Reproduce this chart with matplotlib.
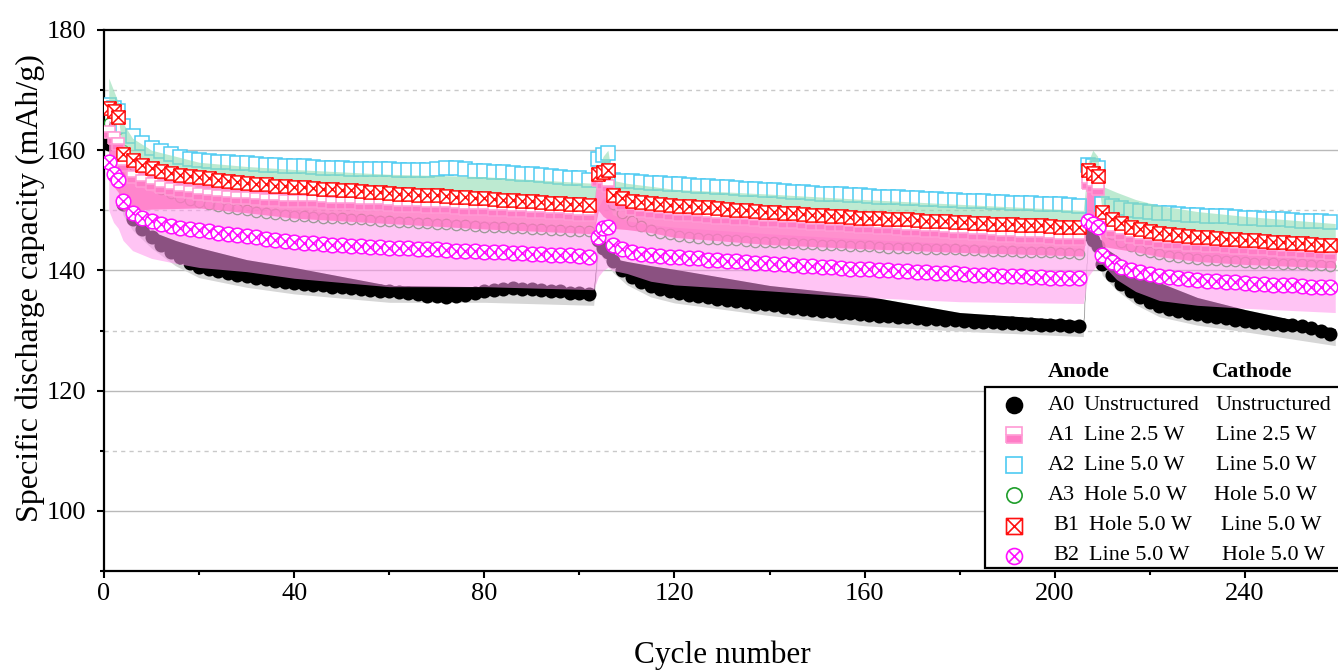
import matplotlib
matplotlib.use("Agg")
import matplotlib.pyplot as plt
from matplotlib.lines import Line2D
from matplotlib.patches import Rectangle
from matplotlib.path import Path
from matplotlib.ticker import MultipleLocator

plt.rcParams["font.family"] = ["Liberation Serif", "DejaVu Serif"]

# cycle numbers of the plotted points (formation, checkup and ageing blocks)
cycles = ([1, 2, 3] + list(range(4, 104, 2)) + [104, 105, 106]
          + list(range(107, 207, 2)) + [207, 208, 209] + list(range(210, 260, 2)))

# mean specific discharge capacity (mAh/g) per cell type
cap_A0 = [
    161.0, 157.5, 155.5,
    151.0, 148.5, 146.9, 145.5, 144.2, 143.1, 142.2, 141.3, 140.6, 140.2,
    139.9, 139.6, 139.3, 139.0, 138.8, 138.5, 138.3, 138.1, 137.9, 137.8,
    137.6, 137.5, 137.3, 137.2, 137.1, 136.9, 136.8, 136.6, 136.5, 136.4,
    136.2, 136.0, 135.8, 135.7, 135.6, 135.7, 135.9, 136.2, 136.5, 136.8,
    136.9, 137.0, 136.9, 136.9, 136.8, 136.6, 136.5, 136.3, 136.2, 136.1,
    145.0, 143.8, 143.0,
    141.5, 140.0, 138.9, 138.0, 137.4, 136.9, 136.5, 136.2, 135.9, 135.7,
    135.5, 135.3, 135.1, 134.9, 134.7, 134.5, 134.4, 134.2, 134.0, 133.8,
    133.6, 133.5, 133.3, 133.2, 133.0, 132.9, 132.7, 132.6, 132.5, 132.4,
    132.3, 132.2, 132.1, 132.0, 131.9, 131.8, 131.7, 131.6, 131.5, 131.4,
    131.4, 131.3, 131.2, 131.1, 131.1, 131.0, 131.0, 130.9, 130.8, 130.8,
    146.0, 145.0, 144.0,
    141.0, 139.2, 137.8, 136.6, 135.6, 134.8, 134.1, 133.6, 133.2, 132.9,
    132.7, 132.5, 132.3, 132.1, 131.8, 131.6, 131.4, 131.2, 131.1, 131.0,
    130.9, 130.8, 130.5, 130.0, 129.5,
]
cap_A1 = [
    163.0, 162.0, 161.0,
    157.5, 155.5, 154.8, 154.3, 153.9, 153.5, 153.2, 153.0, 152.8, 152.6,
    152.4, 152.3, 152.1, 152.0, 151.9, 151.8, 151.7, 151.6, 151.6, 151.5,
    151.5, 151.4, 151.3, 151.3, 151.2, 151.1, 151.0, 151.0, 150.9, 150.8,
    150.8, 150.7, 150.6, 150.5, 150.5, 150.4, 150.3, 150.2, 150.2, 150.1,
    150.0, 149.9, 149.9, 149.8, 149.7, 149.6, 149.5, 149.4, 149.3, 149.2,
    155.0, 154.5, 154.0,
    152.0, 151.0, 150.3, 149.9, 149.7, 149.5, 149.4, 149.3, 149.2, 149.0,
    148.9, 148.8, 148.7, 148.6, 148.5, 148.4, 148.3, 148.2, 148.1, 148.0,
    147.9, 147.8, 147.7, 147.6, 147.5, 147.4, 147.3, 147.2, 147.1, 147.0,
    146.9, 146.8, 146.7, 146.6, 146.5, 146.4, 146.3, 146.2, 146.1, 146.0,
    145.9, 145.8, 145.7, 145.6, 145.6, 145.5, 145.4, 145.3, 145.3, 145.2,
    154.5, 154.0, 153.5,
    148.0, 146.5, 146.0, 145.6, 145.3, 145.0, 144.8, 144.6, 144.5, 144.3,
    144.2, 144.1, 144.0, 143.9, 143.8, 143.7, 143.6, 143.5, 143.4, 143.3,
    143.2, 143.1, 143.0, 142.9, 142.8,
]
cap_A2 = [
    167.5, 167.0, 166.5,
    164.0, 162.3, 161.2, 160.4, 159.8, 159.3, 158.9, 158.6, 158.3, 158.2,
    158.1, 158.0, 157.9, 157.8, 157.7, 157.6, 157.5, 157.4, 157.3, 157.3,
    157.2, 157.1, 157.0, 157.0, 156.9, 156.9, 156.8, 156.8, 156.8, 156.7,
    156.7, 156.7, 156.7, 156.9, 157.0, 157.0, 156.8, 156.6, 156.5, 156.4,
    156.3, 156.2, 156.1, 156.0, 155.9, 155.7, 155.6, 155.4, 155.3, 155.1,
    158.5, 159.2, 159.5,
    155.0, 154.9, 154.8, 154.7, 154.6, 154.5, 154.4, 154.3, 154.2, 154.1,
    154.0, 153.9, 153.8, 153.7, 153.6, 153.5, 153.4, 153.3, 153.2, 153.1,
    153.0, 152.9, 152.8, 152.8, 152.7, 152.6, 152.5, 152.4, 152.3, 152.3,
    152.2, 152.1, 152.0, 151.9, 151.9, 151.8, 151.7, 151.6, 151.6, 151.5,
    151.4, 151.4, 151.3, 151.2, 151.2, 151.1, 151.0, 151.0, 150.9, 150.8,
    157.5, 157.3, 157.0,
    151.1, 150.7, 150.4, 150.1, 149.9, 149.7, 149.6, 149.5, 149.4, 149.3,
    149.2, 149.1, 149.0, 149.0, 148.9, 148.8, 148.7, 148.6, 148.5, 148.5,
    148.4, 148.3, 148.2, 148.2, 148.1,
]
cap_A3 = [
    164.5, 164.0, 163.5,
    160.0, 157.5, 155.8, 154.5, 153.6, 152.9, 152.3, 151.8, 151.4, 151.0,
    150.7, 150.4, 150.2, 150.0, 149.8, 149.6, 149.4, 149.3, 149.1, 149.0,
    148.9, 148.8, 148.7, 148.7, 148.6, 148.5, 148.4, 148.3, 148.2, 148.1,
    148.0, 147.9, 147.9, 147.8, 147.7, 147.6, 147.5, 147.4, 147.3, 147.3,
    147.2, 147.1, 147.0, 146.9, 146.9, 146.8, 146.7, 146.6, 146.6, 146.5,
    155.0, 154.5, 154.0,
    151.0, 149.5, 148.3, 147.4, 146.8, 146.3, 146.0, 145.7, 145.5, 145.4,
    145.3, 145.2, 145.1, 145.0, 144.9, 144.8, 144.7, 144.7, 144.6, 144.5,
    144.4, 144.4, 144.3, 144.2, 144.2, 144.1, 144.0, 144.0, 143.9, 143.8,
    143.8, 143.7, 143.7, 143.6, 143.6, 143.5, 143.5, 143.4, 143.4, 143.3,
    143.3, 143.2, 143.2, 143.1, 143.1, 143.0, 143.0, 142.9, 142.9, 142.8,
    154.5, 154.2, 154.0,
    148.0, 146.0, 144.8, 144.0, 143.4, 143.0, 142.7, 142.4, 142.2, 142.0,
    141.9, 141.8, 141.7, 141.6, 141.5, 141.4, 141.3, 141.2, 141.2, 141.1,
    141.0, 141.0, 140.9, 140.9, 140.8,
]
cap_B1 = [
    167.0, 166.5, 165.5,
    159.3, 158.3, 157.6, 157.0, 156.6, 156.2, 155.9, 155.7, 155.5, 155.3,
    155.1, 154.9, 154.7, 154.5, 154.4, 154.3, 154.1, 154.0, 153.9, 153.8,
    153.7, 153.6, 153.5, 153.4, 153.3, 153.2, 153.1, 153.0, 152.9, 152.8,
    152.7, 152.6, 152.5, 152.5, 152.4, 152.3, 152.2, 152.1, 152.0, 151.9,
    151.8, 151.7, 151.6, 151.5, 151.4, 151.3, 151.2, 151.1, 151.0, 150.9,
    156.0, 156.3, 156.7,
    152.5, 152.0, 151.6, 151.4, 151.2, 151.0, 150.9, 150.8, 150.7, 150.6,
    150.5, 150.4, 150.2, 150.1, 150.0, 149.9, 149.8, 149.7, 149.6, 149.5,
    149.4, 149.3, 149.2, 149.1, 149.0, 148.9, 148.8, 148.8, 148.7, 148.6,
    148.5, 148.5, 148.4, 148.3, 148.2, 148.2, 148.1, 148.0, 147.9, 147.9,
    147.8, 147.7, 147.7, 147.6, 147.5, 147.5, 147.4, 147.3, 147.3, 147.2,
    156.7, 156.2, 155.7,
    149.7, 148.6, 147.9, 147.3, 146.9, 146.6, 146.3, 146.1, 145.9, 145.8,
    145.6, 145.5, 145.4, 145.3, 145.2, 145.1, 145.0, 144.9, 144.8, 144.7,
    144.6, 144.5, 144.4, 144.3, 144.2,
]
cap_B2 = [
    158.0, 156.0, 155.0,
    151.5, 149.5, 148.7, 148.2, 147.8, 147.4, 147.1, 146.9, 146.7, 146.5,
    146.3, 146.1, 145.9, 145.7, 145.5, 145.3, 145.1, 144.9, 144.7, 144.6,
    144.5, 144.4, 144.3, 144.2, 144.1, 144.0, 143.9, 143.9, 143.8, 143.7,
    143.7, 143.6, 143.5, 143.5, 143.4, 143.3, 143.3, 143.2, 143.1, 143.1,
    143.0, 142.9, 142.9, 142.8, 142.7, 142.6, 142.6, 142.5, 142.4, 142.3,
    145.5, 147.0, 147.3,
    144.3, 143.6, 143.1, 142.8, 142.6, 142.4, 142.3, 142.2, 142.1, 142.0,
    141.8, 141.7, 141.6, 141.5, 141.4, 141.3, 141.2, 141.1, 141.0, 140.9,
    140.8, 140.7, 140.6, 140.5, 140.4, 140.3, 140.2, 140.2, 140.1, 140.0,
    139.9, 139.9, 139.8, 139.7, 139.6, 139.6, 139.5, 139.4, 139.3, 139.3,
    139.2, 139.1, 139.1, 139.0, 138.9, 138.9, 138.8, 138.8, 138.7, 138.7,
    148.3, 147.8, 147.2,
    142.5, 141.4, 140.6, 140.1, 139.7, 139.4, 139.1, 138.9, 138.7, 138.5,
    138.4, 138.3, 138.2, 138.1, 138.0, 137.9, 137.8, 137.7, 137.6, 137.5,
    137.5, 137.4, 137.3, 137.3, 137.2,
]

# spread (shaded bands) read at coarser cycle positions
band_cycles = [1, 2, 3, 4, 6, 10, 15, 20, 30, 40, 60, 80, 103,
               104, 105, 106, 107, 110, 115, 120, 140, 160, 180, 206,
               207, 208, 209, 210, 213, 217, 222, 230, 240, 259]
band_A0_lo = [159.2, 155.7, 153.7, 149.2, 146.7, 143.7, 140.8, 138.8, 137.2, 136.1, 134.7, 134.7, 134.2,
              143.2, 142.0, 141.2, 139.7, 137.6, 135.6, 134.6, 132.5, 130.8, 129.9, 129.0,
              144.2, 143.2, 142.2, 139.2, 136.7, 134.3, 132.3, 130.9, 129.8, 127.5]
band_A0_mid = [161.0, 157.5, 155.5, 151.0, 148.5, 145.5, 142.6, 140.6, 139.0, 137.9, 136.5, 136.5, 136.0,
               145.0, 143.8, 143.0, 141.5, 139.4, 137.4, 136.4, 134.3, 132.6, 131.7, 130.8,
               146.0, 145.0, 144.0, 141.0, 138.5, 136.1, 134.1, 132.7, 131.6, 129.3]
band_A0_hi = [161.0, 157.5, 155.5, 151.0, 148.5, 146.5, 145.0, 143.8, 141.8, 140.5, 137.5, 137.3, 136.9,
              145.0, 143.8, 143.0, 142.0, 141.5, 140.8, 140.2, 137.5, 135.8, 133.0, 131.6,
              146.0, 145.0, 144.0, 144.0, 142.5, 140.0, 138.0, 135.5, 133.5, 130.3]
band_A1_lo = [155.0, 154.0, 153.0, 150.0, 150.0, 150.2, 150.3, 150.4, 149.6, 148.7, 147.8, 146.9, 146.1,
              150.0, 149.0, 148.5, 147.0, 146.8, 146.3, 145.5, 144.3, 143.6, 143.0, 142.4,
              149.5, 149.0, 148.5, 144.0, 143.6, 143.1, 142.3, 141.5, 141.0, 140.4]
band_A1_hi = [165.0, 164.0, 163.0, 159.5, 157.5, 156.3, 155.4, 154.8, 154.0, 153.6, 152.9, 152.2, 151.2,
              157.0, 156.5, 156.0, 154.0, 152.6, 151.7, 151.3, 150.2, 149.2, 148.2, 147.2,
              156.5, 156.0, 155.5, 150.0, 148.2, 147.4, 146.8, 146.2, 145.7, 144.8]
band_A3_lo = [167.0, 166.5, 165.5, 159.3, 158.3, 157.0, 156.1, 155.5, 154.5, 153.9, 152.9, 152.0, 150.9,
              156.0, 156.3, 156.7, 152.5, 151.8, 151.2, 150.9, 149.8, 148.8, 148.1, 147.2,
              156.7, 156.2, 155.7, 149.7, 148.2, 147.1, 146.3, 145.6, 145.1, 144.2]
band_A3_hi = [172.0, 170.0, 168.0, 164.5, 162.0, 160.0, 159.0, 158.0, 157.3, 156.8, 156.0, 155.6, 154.5,
              157.0, 159.0, 160.0, 155.0, 154.5, 154.0, 153.5, 152.7, 151.8, 151.0, 150.0,
              158.0, 160.0, 159.0, 154.0, 153.0, 151.8, 150.8, 149.8, 149.0, 147.8]
band_B2_lo = [150.0, 148.0, 147.0, 145.0, 143.3, 142.0, 141.2, 140.5, 139.8, 138.7, 137.3, 137.3, 136.8,
              139.0, 140.0, 140.5, 140.0, 139.5, 138.2, 137.6, 136.6, 135.5, 134.8, 134.5,
              139.0, 140.0, 141.0, 141.0, 138.5, 136.5, 135.0, 134.2, 133.7, 133.0]
band_B2_hi = [163.0, 161.0, 160.0, 156.5, 154.5, 153.2, 152.2, 151.7, 150.7, 150.0, 149.0, 148.2, 147.2,
              150.5, 152.0, 152.3, 149.3, 148.3, 147.6, 147.2, 146.1, 145.2, 144.4, 143.7,
              153.3, 152.8, 152.2, 147.5, 146.0, 144.9, 144.1, 143.4, 142.9, 142.2]

# legend table
leg_codes = ["A0", "A1", "A2", "A3", "B1", "B2"]
leg_anode = ["Unstructured", "Line 2.5 W", "Line 5.0 W", "Hole 5.0 W", "Hole 5.0 W", "Line 5.0 W"]
leg_cathode = ["Unstructured", "Line 2.5 W", "Line 5.0 W", "Hole 5.0 W", "Line 5.0 W", "Hole 5.0 W"]


def crossed(base):
    # outline + both diagonals, used for the boxed / circled X markers
    if base == "square":
        d = 1.0
        outline = Path([(-1, -1), (1, -1), (1, 1), (-1, 1), (-1, -1)],
                       [Path.MOVETO, Path.LINETO, Path.LINETO, Path.LINETO, Path.CLOSEPOLY])
    else:
        d = 0.7071
        outline = Path.unit_circle()
    diag = Path([(-d, -d), (d, d), (-d, d), (d, -d)],
                [Path.MOVETO, Path.LINETO, Path.MOVETO, Path.LINETO])
    return Path.make_compound_path(outline, diag)


styles = {
    "A0": dict(marker="o", mfc="black", mec="black", ms=9, mew=1.1, z=2),
    "A1": dict(marker="s", mfc="#ff7cc6", mec="#ff9ad4", ms=8.5, mew=1.1, z=5.1,
               fillstyle="bottom", mfcalt="white"),
    "A2": dict(marker="s", mfc="white", mec="#4ecbf2", ms=9.5, mew=1.1, z=4),
    "A3": dict(marker="o", mfc="none", mec="#1e9e2a", ms=7.5, mew=0.9, z=3.0),
    "B1": dict(marker=crossed("square"), mfc="white", mec="#ff1010", ms=9.5, mew=1.1, z=5.2),
    "B2": dict(marker=crossed("circle"), mfc="white", mec="#ff10ff", ms=10.5, mew=1.1, z=5.3),
}


def marker_kw(st):
    kw = dict(ls="none", marker=st["marker"], ms=st["ms"], mfc=st["mfc"], mec=st["mec"],
              mew=st["mew"])
    if "fillstyle" in st:
        kw.update(fillstyle=st["fillstyle"], markerfacecoloralt=st["mfcalt"])
    return kw


W, H = 1338, 670
fig = plt.figure(figsize=(W / 100, H / 100), dpi=100)
ax = fig.add_axes([104 / W, 1 - 571 / H, 1236 / W, 541 / H])

# grid
for v in [100, 120, 140, 160]:
    ax.axhline(v, color="#b9b9b9", lw=1.0, zorder=0)
for v in [110, 130, 150, 170]:
    ax.axhline(v, color="#c9c9c9", lw=1.0, ls=(0, (3, 3)), zorder=0)

# shaded spreads and point series, stacked the way the original overlaps
ax.fill_between(band_cycles, band_A0_lo, band_A0_hi, color="#d6d6d6", lw=0, zorder=1)
ax.fill_between(band_cycles, band_A0_mid, band_A0_hi, color="black", lw=0, zorder=1.5)
ax.plot(cycles, cap_A0, zorder=styles["A0"]["z"], **marker_kw(styles["A0"]))
ax.plot(cycles, cap_A3, zorder=styles["A3"]["z"], **marker_kw(styles["A3"]))
ax.fill_between(band_cycles, band_B2_lo, band_B2_hi, color="#ff94ec", alpha=0.55, lw=0, zorder=3.1)
ax.fill_between(band_cycles, band_A1_lo, band_A1_hi, color="#ff78c4", alpha=0.82, lw=0, zorder=3.2)
ax.plot(cycles, cap_A2, zorder=styles["A2"]["z"], **marker_kw(styles["A2"]))
ax.fill_between(band_cycles, band_A3_lo, band_A3_hi, color="#92dcb3", alpha=0.6, lw=0, zorder=4.5)
for code, vals in [("A1", cap_A1), ("B1", cap_B1), ("B2", cap_B2)]:
    ax.plot(cycles, vals, zorder=styles[code]["z"], **marker_kw(styles[code]))

ax.set_xlim(0, 260)
ax.set_ylim(90, 180)
ax.xaxis.set_major_locator(MultipleLocator(40))
ax.xaxis.set_minor_locator(MultipleLocator(20))
ax.yaxis.set_major_locator(MultipleLocator(20))
ax.yaxis.set_minor_locator(MultipleLocator(10))
ax.tick_params(which="both", direction="out", width=1.5, labelsize=19)
ax.tick_params(axis="y", pad=8)
ax.tick_params(axis="x", pad=4)
ax.tick_params(which="major", length=5)
ax.tick_params(which="minor", length=3)
for s in ax.spines.values():
    s.set_linewidth(1.6)

ax.set_xlabel("Cycle number", fontsize=22.5)
ax.xaxis.set_label_coords(0.5, -0.128)
ax.set_ylabel("Specific discharge capacity (mAh/g)", fontsize=23)
ax.yaxis.set_label_coords(-0.048, 0.523)

# legend drawn as a small table in figure pixels
fx = lambda px: px / W
fy = lambda py: 1 - py / H
fig.add_artist(Rectangle((fx(985), fy(568)), fx(1345) - fx(985), fy(387) - fy(568),
                         transform=fig.transFigure, fc="white", ec="black", lw=1.6,
                         clip_on=False, zorder=10))
fig.text(fx(1048), fy(372), "Anode", fontsize=16, fontweight="bold", va="center", zorder=11)
fig.text(fx(1212), fy(372), "Cathode", fontsize=16, fontweight="bold", va="center", zorder=11)
row_y = [405, 435, 465, 495, 526, 556]
cat_x = [1215, 1216, 1216, 1214, 1221, 1222]
for i, code in enumerate(leg_codes):
    y = fy(row_y[i])
    kw = marker_kw(styles[code])
    kw["ms"] = 11.5 if code != "A3" else 11
    kw["mew"] = 1.2
    fig.add_artist(Line2D([fx(1014)], [y], transform=fig.transFigure, zorder=12, **kw))
    off = 5 if code.startswith("B") else 0
    fig.text(fx(1048 + off), y, code, fontsize=16, va="center", zorder=12)
    fig.text(fx(1084 + off), y, leg_anode[i], fontsize=16, va="center", zorder=12)
    fig.text(fx(cat_x[i]), y, leg_cathode[i], fontsize=16, va="center", zorder=12)

fig.savefig("out.png", dpi=100)
